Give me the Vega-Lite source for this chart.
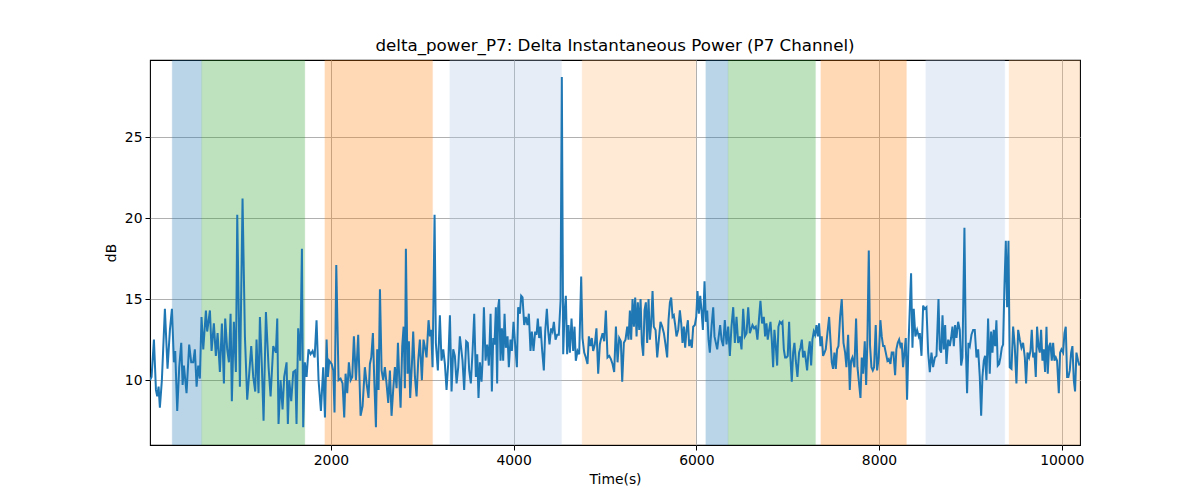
{
"$schema":"https://vega.github.io/schema/vega-lite/v6.json",
"autosize":"none",
"width":930,"height":385,
"padding":{"left":150,"top":60,"right":120,"bottom":55},
"background":"white",
"config":{"font":"DejaVu Sans","view":{"stroke":"black","strokeWidth":1.1}},
"title":{"text":"delta_power_P7: Delta Instantaneous Power (P7 Channel)","fontSize":16.7,"fontWeight":"normal","font":"DejaVu Sans","color":"black","offset":5,"anchor":"middle"},
"datasets":{
"bands":[
{"start":263,"end":585,"kind":"A"},
{"start":585,"end":1715,"kind":"B"},
{"start":1934,"end":3113,"kind":"C"},
{"start":3302,"end":4525,"kind":"D"},
{"start":4750,"end":5995,"kind":"E"},
{"start":6104,"end":6348,"kind":"A"},
{"start":6348,"end":7305,"kind":"B"},
{"start":7363,"end":8300,"kind":"C"},
{"start":8512,"end":9377,"kind":"D"},
{"start":9423,"end":10200,"kind":"E"}
],
"series":[
{"t":20,"v":10.0},{"t":37,"v":10.2},{"t":63,"v":12.5},{"t":85,"v":9.4},{"t":99,"v":9.0},{"t":114,"v":9.6},{"t":128,"v":8.3},{"t":150,"v":10.0},{"t":183,"v":14.4},{"t":212,"v":10.7},{"t":238,"v":13.1},{"t":260,"v":14.4},{"t":282,"v":11.1},{"t":296,"v":11.8},{"t":318,"v":8.1},{"t":340,"v":10.8},{"t":362,"v":12.3},{"t":377,"v":9.7},{"t":391,"v":10.9},{"t":420,"v":9.2},{"t":449,"v":12.2},{"t":471,"v":11.1},{"t":493,"v":11.1},{"t":511,"v":11.9},{"t":530,"v":9.6},{"t":548,"v":10.9},{"t":566,"v":10.1},{"t":584,"v":13.9},{"t":603,"v":11.9},{"t":632,"v":14.3},{"t":646,"v":13.0},{"t":676,"v":14.3},{"t":694,"v":11.8},{"t":719,"v":13.5},{"t":741,"v":11.5},{"t":760,"v":12.9},{"t":785,"v":10.5},{"t":807,"v":13.5},{"t":829,"v":9.8},{"t":843,"v":13.8},{"t":865,"v":11.9},{"t":884,"v":11.1},{"t":902,"v":14.1},{"t":916,"v":8.7},{"t":938,"v":13.6},{"t":960,"v":10.5},{"t":975,"v":20.2},{"t":1004,"v":9.6},{"t":1033,"v":21.2},{"t":1059,"v":12.7},{"t":1084,"v":8.8},{"t":1106,"v":10.4},{"t":1128,"v":12.1},{"t":1150,"v":10.2},{"t":1172,"v":9.3},{"t":1186,"v":12.5},{"t":1208,"v":9.2},{"t":1223,"v":13.9},{"t":1245,"v":10.8},{"t":1263,"v":7.5},{"t":1289,"v":14.2},{"t":1318,"v":10.8},{"t":1340,"v":9.0},{"t":1369,"v":12.1},{"t":1398,"v":11.7},{"t":1413,"v":13.8},{"t":1427,"v":7.3},{"t":1449,"v":10.0},{"t":1471,"v":8.2},{"t":1489,"v":10.2},{"t":1515,"v":11.1},{"t":1529,"v":7.3},{"t":1544,"v":10.0},{"t":1566,"v":8.7},{"t":1588,"v":10.5},{"t":1610,"v":10.6},{"t":1624,"v":7.3},{"t":1642,"v":13.2},{"t":1664,"v":11.2},{"t":1683,"v":18.1},{"t":1697,"v":7.1},{"t":1715,"v":11.1},{"t":1734,"v":10.2},{"t":1755,"v":11.9},{"t":1778,"v":11.6},{"t":1800,"v":11.8},{"t":1822,"v":11.4},{"t":1843,"v":13.7},{"t":1865,"v":10.0},{"t":1891,"v":8.1},{"t":1916,"v":10.8},{"t":1935,"v":7.7},{"t":1953,"v":12.5},{"t":1967,"v":10.2},{"t":1982,"v":11.2},{"t":2008,"v":11.0},{"t":2026,"v":10.6},{"t":2040,"v":8.0},{"t":2059,"v":17.1},{"t":2084,"v":10.0},{"t":2106,"v":10.1},{"t":2128,"v":9.8},{"t":2146,"v":7.7},{"t":2161,"v":10.4},{"t":2179,"v":9.2},{"t":2197,"v":11.1},{"t":2216,"v":10.0},{"t":2234,"v":10.2},{"t":2252,"v":12.7},{"t":2274,"v":10.0},{"t":2299,"v":12.8},{"t":2325,"v":7.8},{"t":2347,"v":8.4},{"t":2372,"v":10.8},{"t":2391,"v":9.8},{"t":2412,"v":8.9},{"t":2427,"v":11.0},{"t":2442,"v":11.4},{"t":2460,"v":12.9},{"t":2475,"v":10.0},{"t":2493,"v":7.1},{"t":2507,"v":11.9},{"t":2522,"v":9.4},{"t":2537,"v":15.6},{"t":2555,"v":10.6},{"t":2573,"v":10.0},{"t":2591,"v":10.8},{"t":2609,"v":9.8},{"t":2628,"v":8.6},{"t":2646,"v":10.6},{"t":2664,"v":7.8},{"t":2682,"v":9.4},{"t":2701,"v":10.8},{"t":2719,"v":9.5},{"t":2734,"v":12.3},{"t":2748,"v":10.2},{"t":2763,"v":8.3},{"t":2781,"v":12.1},{"t":2796,"v":13.3},{"t":2810,"v":9.5},{"t":2821,"v":18.1},{"t":2839,"v":10.4},{"t":2854,"v":12.4},{"t":2868,"v":8.9},{"t":2887,"v":11.0},{"t":2901,"v":13.0},{"t":2920,"v":10.2},{"t":2938,"v":9.0},{"t":2956,"v":11.2},{"t":2974,"v":12.5},{"t":2996,"v":10.0},{"t":3014,"v":12.5},{"t":3033,"v":11.9},{"t":3047,"v":11.4},{"t":3069,"v":13.7},{"t":3084,"v":12.7},{"t":3098,"v":13.1},{"t":3113,"v":10.8},{"t":3135,"v":20.2},{"t":3149,"v":12.3},{"t":3171,"v":10.6},{"t":3193,"v":14.0},{"t":3211,"v":11.2},{"t":3230,"v":11.9},{"t":3248,"v":11.0},{"t":3266,"v":9.4},{"t":3284,"v":11.0},{"t":3303,"v":14.0},{"t":3321,"v":9.3},{"t":3339,"v":11.9},{"t":3357,"v":11.5},{"t":3376,"v":9.8},{"t":3394,"v":10.8},{"t":3412,"v":12.7},{"t":3441,"v":11.2},{"t":3459,"v":9.4},{"t":3481,"v":12.4},{"t":3499,"v":12.3},{"t":3514,"v":10.6},{"t":3532,"v":9.8},{"t":3551,"v":11.8},{"t":3569,"v":14.1},{"t":3587,"v":10.2},{"t":3602,"v":11.6},{"t":3616,"v":8.9},{"t":3631,"v":11.1},{"t":3649,"v":9.9},{"t":3660,"v":11.1},{"t":3675,"v":14.5},{"t":3693,"v":11.2},{"t":3711,"v":12.2},{"t":3729,"v":10.9},{"t":3748,"v":14.1},{"t":3762,"v":9.3},{"t":3777,"v":12.6},{"t":3791,"v":12.2},{"t":3806,"v":14.5},{"t":3820,"v":9.8},{"t":3831,"v":14.5},{"t":3842,"v":15.0},{"t":3857,"v":11.2},{"t":3872,"v":13.2},{"t":3886,"v":11.2},{"t":3901,"v":14.1},{"t":3915,"v":12.0},{"t":3934,"v":12.7},{"t":3948,"v":10.8},{"t":3966,"v":12.5},{"t":3981,"v":11.8},{"t":3999,"v":13.6},{"t":4017,"v":12.2},{"t":4036,"v":10.8},{"t":4050,"v":14.5},{"t":4069,"v":14.1},{"t":4083,"v":15.2},{"t":4098,"v":15.1},{"t":4116,"v":13.4},{"t":4134,"v":13.9},{"t":4152,"v":13.4},{"t":4167,"v":14.1},{"t":4185,"v":11.8},{"t":4200,"v":13.0},{"t":4218,"v":11.8},{"t":4236,"v":13.0},{"t":4251,"v":12.8},{"t":4265,"v":13.8},{"t":4280,"v":12.6},{"t":4295,"v":13.3},{"t":4313,"v":11.8},{"t":4331,"v":10.6},{"t":4346,"v":13.0},{"t":4364,"v":14.4},{"t":4379,"v":13.0},{"t":4393,"v":12.2},{"t":4411,"v":13.2},{"t":4426,"v":13.0},{"t":4441,"v":13.6},{"t":4459,"v":12.5},{"t":4477,"v":12.8},{"t":4495,"v":12.8},{"t":4514,"v":14.9},{"t":4528,"v":28.7},{"t":4543,"v":11.6},{"t":4557,"v":14.1},{"t":4572,"v":15.2},{"t":4586,"v":11.6},{"t":4601,"v":13.4},{"t":4616,"v":11.7},{"t":4634,"v":13.8},{"t":4652,"v":11.8},{"t":4667,"v":13.3},{"t":4681,"v":11.2},{"t":4700,"v":11.8},{"t":4718,"v":11.6},{"t":4740,"v":16.4},{"t":4754,"v":12.6},{"t":4773,"v":11.7},{"t":4791,"v":11.4},{"t":4809,"v":11.0},{"t":4824,"v":12.7},{"t":4842,"v":12.1},{"t":4856,"v":12.6},{"t":4871,"v":11.8},{"t":4889,"v":12.2},{"t":4907,"v":13.2},{"t":4926,"v":10.4},{"t":4944,"v":12.2},{"t":4955,"v":12.5},{"t":4974,"v":12.9},{"t":4992,"v":12.4},{"t":5010,"v":14.3},{"t":5028,"v":11.4},{"t":5047,"v":11.5},{"t":5065,"v":11.3},{"t":5083,"v":11.0},{"t":5101,"v":10.5},{"t":5120,"v":13.3},{"t":5138,"v":11.1},{"t":5156,"v":12.6},{"t":5174,"v":12.4},{"t":5189,"v":9.9},{"t":5207,"v":12.3},{"t":5225,"v":12.5},{"t":5244,"v":13.3},{"t":5258,"v":12.5},{"t":5273,"v":14.3},{"t":5287,"v":12.5},{"t":5302,"v":15.0},{"t":5317,"v":13.3},{"t":5331,"v":15.1},{"t":5346,"v":12.7},{"t":5360,"v":14.8},{"t":5375,"v":13.1},{"t":5390,"v":15.0},{"t":5404,"v":12.3},{"t":5419,"v":11.5},{"t":5433,"v":14.3},{"t":5448,"v":14.8},{"t":5462,"v":12.3},{"t":5477,"v":15.0},{"t":5492,"v":12.5},{"t":5506,"v":13.5},{"t":5521,"v":15.5},{"t":5535,"v":13.3},{"t":5554,"v":13.1},{"t":5572,"v":11.4},{"t":5590,"v":12.5},{"t":5608,"v":13.6},{"t":5627,"v":13.3},{"t":5645,"v":12.9},{"t":5663,"v":12.2},{"t":5681,"v":11.4},{"t":5696,"v":13.7},{"t":5711,"v":14.8},{"t":5725,"v":15.1},{"t":5740,"v":13.9},{"t":5754,"v":14.0},{"t":5769,"v":13.4},{"t":5783,"v":12.7},{"t":5802,"v":13.1},{"t":5820,"v":14.3},{"t":5835,"v":13.5},{"t":5849,"v":12.3},{"t":5864,"v":13.3},{"t":5878,"v":12.0},{"t":5893,"v":13.1},{"t":5908,"v":13.7},{"t":5922,"v":12.1},{"t":5937,"v":12.5},{"t":5951,"v":12.0},{"t":5966,"v":13.3},{"t":5984,"v":13.4},{"t":5999,"v":13.9},{"t":6013,"v":15.5},{"t":6028,"v":14.1},{"t":6043,"v":15.2},{"t":6057,"v":14.3},{"t":6072,"v":13.1},{"t":6090,"v":16.1},{"t":6105,"v":13.6},{"t":6119,"v":14.3},{"t":6134,"v":12.5},{"t":6148,"v":11.7},{"t":6167,"v":13.3},{"t":6185,"v":14.5},{"t":6199,"v":12.7},{"t":6214,"v":12.3},{"t":6229,"v":11.9},{"t":6243,"v":12.6},{"t":6261,"v":13.4},{"t":6276,"v":12.5},{"t":6294,"v":12.1},{"t":6312,"v":13.7},{"t":6331,"v":12.2},{"t":6349,"v":13.3},{"t":6367,"v":11.5},{"t":6385,"v":13.3},{"t":6404,"v":14.5},{"t":6422,"v":12.3},{"t":6440,"v":13.9},{"t":6458,"v":12.3},{"t":6477,"v":12.7},{"t":6495,"v":11.9},{"t":6513,"v":14.4},{"t":6531,"v":12.7},{"t":6550,"v":12.9},{"t":6568,"v":14.5},{"t":6586,"v":12.9},{"t":6615,"v":13.4},{"t":6633,"v":13.2},{"t":6651,"v":13.3},{"t":6669,"v":12.5},{"t":6688,"v":13.9},{"t":6702,"v":14.9},{"t":6720,"v":13.5},{"t":6739,"v":13.9},{"t":6753,"v":12.7},{"t":6768,"v":13.5},{"t":6782,"v":12.5},{"t":6797,"v":13.1},{"t":6812,"v":13.6},{"t":6826,"v":12.5},{"t":6841,"v":10.8},{"t":6855,"v":13.1},{"t":6870,"v":12.1},{"t":6885,"v":10.9},{"t":6899,"v":13.3},{"t":6914,"v":13.6},{"t":6928,"v":13.5},{"t":6943,"v":13.6},{"t":6958,"v":11.9},{"t":6972,"v":11.4},{"t":6987,"v":11.4},{"t":7001,"v":11.5},{"t":7016,"v":13.6},{"t":7030,"v":11.4},{"t":7045,"v":9.9},{"t":7060,"v":11.7},{"t":7074,"v":12.3},{"t":7089,"v":11.2},{"t":7107,"v":10.2},{"t":7125,"v":11.7},{"t":7140,"v":12.0},{"t":7155,"v":12.5},{"t":7169,"v":11.4},{"t":7184,"v":11.8},{"t":7198,"v":11.3},{"t":7213,"v":10.6},{"t":7227,"v":11.7},{"t":7242,"v":12.4},{"t":7257,"v":10.9},{"t":7271,"v":12.5},{"t":7286,"v":13.0},{"t":7300,"v":12.8},{"t":7315,"v":13.4},{"t":7330,"v":12.7},{"t":7344,"v":13.5},{"t":7359,"v":12.1},{"t":7373,"v":12.7},{"t":7388,"v":11.5},{"t":7403,"v":11.7},{"t":7417,"v":11.9},{"t":7435,"v":12.9},{"t":7454,"v":13.9},{"t":7468,"v":12.5},{"t":7483,"v":11.1},{"t":7497,"v":10.7},{"t":7512,"v":11.7},{"t":7527,"v":10.7},{"t":7541,"v":11.9},{"t":7556,"v":12.1},{"t":7574,"v":13.9},{"t":7592,"v":15.0},{"t":7611,"v":12.3},{"t":7629,"v":11.7},{"t":7643,"v":10.8},{"t":7662,"v":12.8},{"t":7680,"v":9.4},{"t":7694,"v":11.2},{"t":7709,"v":11.4},{"t":7731,"v":10.8},{"t":7749,"v":13.8},{"t":7764,"v":10.8},{"t":7778,"v":10.0},{"t":7797,"v":8.9},{"t":7811,"v":11.4},{"t":7826,"v":10.4},{"t":7844,"v":12.4},{"t":7859,"v":9.7},{"t":7873,"v":12.5},{"t":7888,"v":18.0},{"t":7902,"v":12.1},{"t":7917,"v":10.8},{"t":7932,"v":10.6},{"t":7946,"v":10.8},{"t":7964,"v":13.4},{"t":7979,"v":10.6},{"t":7997,"v":11.4},{"t":8015,"v":13.7},{"t":8030,"v":12.7},{"t":8045,"v":12.1},{"t":8059,"v":12.1},{"t":8074,"v":11.7},{"t":8092,"v":11.2},{"t":8107,"v":11.3},{"t":8125,"v":11.0},{"t":8139,"v":11.7},{"t":8158,"v":11.7},{"t":8176,"v":10.3},{"t":8190,"v":11.9},{"t":8205,"v":12.3},{"t":8220,"v":12.5},{"t":8234,"v":12.1},{"t":8249,"v":12.3},{"t":8263,"v":10.8},{"t":8278,"v":11.7},{"t":8293,"v":12.6},{"t":8307,"v":8.8},{"t":8322,"v":12.1},{"t":8336,"v":14.3},{"t":8351,"v":16.6},{"t":8366,"v":12.0},{"t":8380,"v":14.4},{"t":8398,"v":12.7},{"t":8417,"v":13.1},{"t":8435,"v":12.7},{"t":8446,"v":12.9},{"t":8465,"v":11.5},{"t":8483,"v":14.6},{"t":8501,"v":14.4},{"t":8519,"v":14.5},{"t":8538,"v":11.7},{"t":8556,"v":10.5},{"t":8574,"v":11.7},{"t":8592,"v":10.8},{"t":8611,"v":11.4},{"t":8629,"v":11.5},{"t":8651,"v":15.0},{"t":8665,"v":11.9},{"t":8680,"v":11.7},{"t":8695,"v":14.0},{"t":8709,"v":11.9},{"t":8724,"v":13.4},{"t":8738,"v":11.0},{"t":8757,"v":12.5},{"t":8775,"v":12.1},{"t":8789,"v":12.6},{"t":8804,"v":13.3},{"t":8819,"v":12.1},{"t":8833,"v":13.4},{"t":8848,"v":12.6},{"t":8866,"v":13.6},{"t":8884,"v":13.1},{"t":8899,"v":10.9},{"t":8913,"v":11.4},{"t":8935,"v":19.4},{"t":8950,"v":12.1},{"t":8964,"v":9.2},{"t":8979,"v":12.3},{"t":8994,"v":12.1},{"t":9012,"v":12.8},{"t":9030,"v":13.1},{"t":9048,"v":13.1},{"t":9067,"v":11.4},{"t":9085,"v":11.9},{"t":9103,"v":10.2},{"t":9118,"v":7.8},{"t":9132,"v":10.2},{"t":9147,"v":11.2},{"t":9161,"v":11.5},{"t":9176,"v":10.0},{"t":9194,"v":13.8},{"t":9212,"v":10.4},{"t":9227,"v":13.0},{"t":9242,"v":11.7},{"t":9256,"v":13.1},{"t":9271,"v":12.1},{"t":9285,"v":13.7},{"t":9300,"v":10.9},{"t":9315,"v":11.0},{"t":9329,"v":11.4},{"t":9344,"v":12.0},{"t":9358,"v":12.2},{"t":9373,"v":15.8},{"t":9388,"v":18.6},{"t":9402,"v":14.5},{"t":9417,"v":18.6},{"t":9431,"v":10.8},{"t":9450,"v":10.7},{"t":9468,"v":13.3},{"t":9486,"v":12.1},{"t":9504,"v":9.8},{"t":9523,"v":13.1},{"t":9541,"v":12.5},{"t":9559,"v":12.0},{"t":9577,"v":12.3},{"t":9596,"v":11.4},{"t":9610,"v":9.8},{"t":9625,"v":11.7},{"t":9643,"v":11.4},{"t":9658,"v":11.8},{"t":9672,"v":13.1},{"t":9687,"v":11.4},{"t":9701,"v":11.7},{"t":9716,"v":10.2},{"t":9730,"v":13.3},{"t":9745,"v":12.1},{"t":9760,"v":11.7},{"t":9774,"v":13.1},{"t":9789,"v":11.2},{"t":9803,"v":11.9},{"t":9818,"v":10.5},{"t":9833,"v":13.3},{"t":9847,"v":10.4},{"t":9862,"v":12.1},{"t":9876,"v":12.3},{"t":9891,"v":11.2},{"t":9906,"v":12.3},{"t":9920,"v":11.2},{"t":9935,"v":11.4},{"t":9949,"v":11.2},{"t":9968,"v":9.2},{"t":9982,"v":11.7},{"t":9997,"v":11.9},{"t":10015,"v":11.7},{"t":10030,"v":12.9},{"t":10044,"v":13.3},{"t":10059,"v":10.2},{"t":10073,"v":10.2},{"t":10088,"v":10.6},{"t":10103,"v":11.7},{"t":10117,"v":12.1},{"t":10132,"v":10.0},{"t":10146,"v":9.3},{"t":10161,"v":11.7},{"t":10179,"v":11.2},{"t":10194,"v":10.9}
]
},
"layer":[
{"data":{"name":"bands"},
 "mark":{"type":"rect","opacity":0.3,"strokeWidth":1,"strokeOpacity":0.3,"clip":true},
 "encoding":{
  "x":{"field":"start","type":"quantitative","scale":{"domain":[20,10200],"nice":false,"zero":false},
    "axis":{"title":"Time(s)","values":[2000,4000,6000,8000,10000],"format":"d","grid":true,"gridColor":"#b0b0b0","gridWidth":1,"domain":false,"tickColor":"black","tickSize":5,"tickWidth":1,"labelFontSize":13.9,"titleFontSize":13.9,"labelColor":"black","titleColor":"black","titleFontWeight":"normal","labelPadding":3,"titlePadding":6,"labelFont":"DejaVu Sans","titleFont":"DejaVu Sans"}},
  "x2":{"field":"end"},
  "color":{"field":"kind","type":"nominal","scale":{"domain":["A","B","C","D","E"],"range":["#1f77b4","#2ca02c","#ff7f0e","#aec7e8","#ffbb78"]},"legend":null},
  "stroke":{"field":"kind","type":"nominal","scale":{"domain":["A","B","C","D","E"],"range":["#1f77b4","#2ca02c","#ff7f0e","#aec7e8","#ffbb78"]},"legend":null}
 }},
{"data":{"name":"series"},
 "mark":{"type":"line","color":"#1f77b4","strokeWidth":2,"clip":true},
 "encoding":{
  "x":{"field":"t","type":"quantitative"},
  "y":{"field":"v","type":"quantitative","scale":{"domain":[6.0,29.75],"nice":false,"zero":false},
    "axis":{"title":"dB","values":[10,15,20,25],"grid":true,"gridColor":"#b0b0b0","gridWidth":1,"domain":false,"tickColor":"black","tickSize":5,"tickWidth":1,"labelFontSize":13.9,"titleFontSize":13.9,"labelColor":"black","titleColor":"black","titleFontWeight":"normal","labelPadding":3,"titlePadding":6,"labelFont":"DejaVu Sans","titleFont":"DejaVu Sans"}}
 }}
]
}
